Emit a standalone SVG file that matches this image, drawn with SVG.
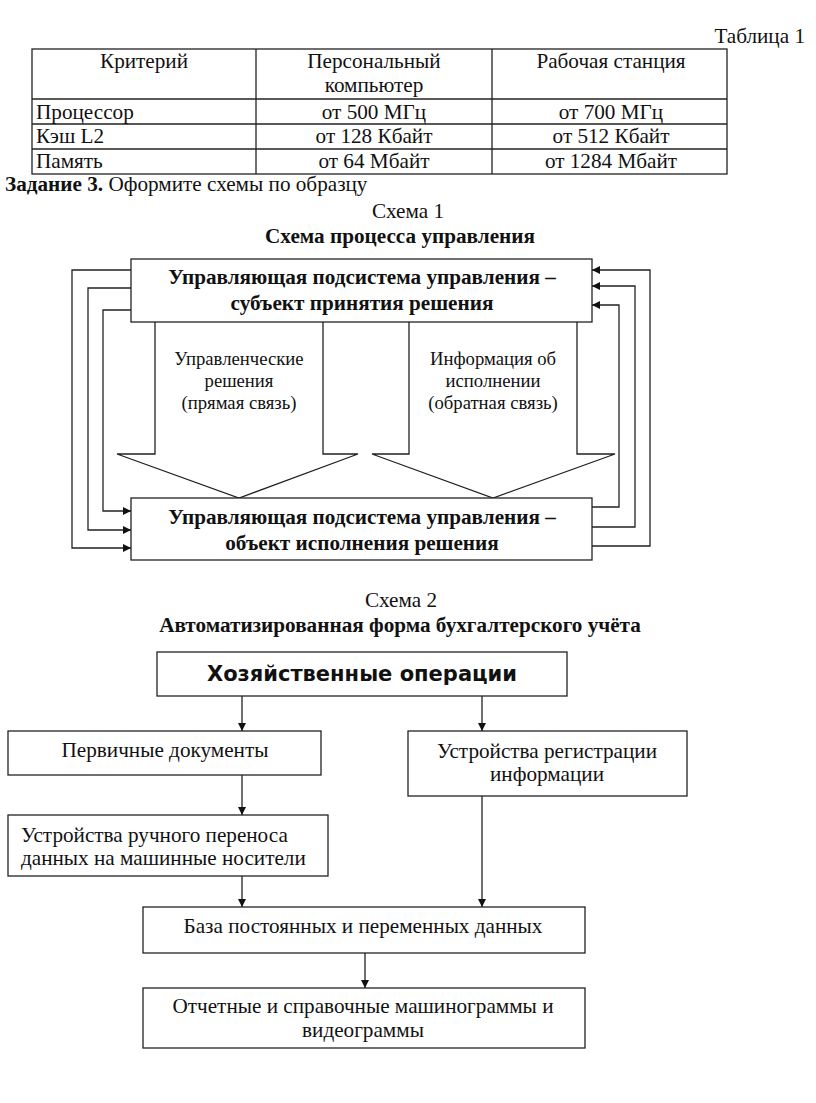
<svg xmlns="http://www.w3.org/2000/svg" width="816" height="1103" viewBox="0 0 816 1103">
<defs>
<marker id="ah" viewBox="0 0 10 10" refX="10" refY="5" markerWidth="8" markerHeight="8" markerUnits="userSpaceOnUse" orient="auto">
<path d="M0,0 L10,5 L0,10 z" fill="#111"/>
</marker>
<style>
.t{font-family:"Liberation Serif","Times New Roman",serif;font-size:21.2px;fill:#111}
.b{font-weight:bold}
.c{text-anchor:middle}
.s{font-size:18.7px}
.bx{fill:#fff;stroke:#222;stroke-width:1.3}
.ln{fill:none;stroke:#222;stroke-width:1.3}
.ar{fill:none;stroke:#222;stroke-width:1.3;marker-end:url(#ah)}
.h{font-family:"DejaVu Sans",Verdana,sans-serif;font-weight:bold;font-size:21px;fill:#111;text-anchor:middle}
</style>
</defs>
<rect width="816" height="1103" fill="#fff"/>

<g id="table">
<text class="t" x="805" y="43" text-anchor="end">Таблица 1</text>
<rect class="ln" x="32" y="49" width="695" height="125"/>
<line class="ln" x1="256" y1="49" x2="256" y2="174"/>
<line class="ln" x1="492" y1="49" x2="492" y2="174"/>
<line class="ln" x1="32" y1="99" x2="727" y2="99"/>
<line class="ln" x1="32" y1="124" x2="727" y2="124"/>
<line class="ln" x1="32" y1="149" x2="727" y2="149"/>
<text class="t c" x="144" y="68">Критерий</text>
<text class="t c" x="374" y="68">Персональный</text>
<text class="t c" x="374" y="92">компьютер</text>
<text class="t c" x="611" y="68">Рабочая станция</text>
<text class="t" x="36" y="119">Процессор</text>
<text class="t c" x="374" y="119">от 500 МГц</text>
<text class="t c" x="611" y="119">от 700 МГц</text>
<text class="t" x="36" y="143">Кэш L2</text>
<text class="t c" x="374" y="143">от 128 Кбайт</text>
<text class="t c" x="611" y="143">от 512 Кбайт</text>
<text class="t" x="36" y="168">Память</text>
<text class="t c" x="374" y="168">от 64 Мбайт</text>
<text class="t c" x="611" y="168">от 1284 Мбайт</text>
</g>

<text class="t" x="5" y="191"><tspan class="b">Задание 3.</tspan> Оформите схемы по образцу</text>

<text class="t c" x="408" y="218">Схема 1</text>
<text class="t c b" x="400" y="243">Схема процесса управления</text>

<g id="s1-connectors">
<polyline class="ln" points="155,322 155,454 117,454 239,498 358,454 323,454 323,322"/>
<polyline class="ln" points="409,322 409,454 372,454 493,498 615,454 577,454 577,322"/>
<path class="ar" d="M131,270 H72 V548 H131"/>
<path class="ar" d="M131,288 H88 V530 H131"/>
<path class="ar" d="M131,310 H103 V511 H131"/>
<path class="ar" d="M592,546 H650 V270 H592"/>
<path class="ar" d="M592,527 H635 V286 H592"/>
<path class="ar" d="M592,507 H619 V305 H592"/>
</g>

<g id="s1-top">
<rect class="bx" x="131" y="259" width="461" height="63"/>
<text class="t b c" x="362" y="284">Управляющая подсистема управления –</text>
<text class="t b c" x="362" y="310">субъект принятия решения</text>
</g>
<g id="s1-bottom">
<rect class="bx" x="131" y="498" width="461" height="62"/>
<text class="t b c" x="362" y="524">Управляющая подсистема управления –</text>
<text class="t b c" x="362" y="550">объект исполнения решения</text>
</g>
<g id="s1-label-left">
<text class="t s c" x="239" y="365">Управленческие</text>
<text class="t s c" x="239" y="387">решения</text>
<text class="t s c" x="239" y="409">(прямая связь)</text>
</g>
<g id="s1-label-right">
<text class="t s c" x="493" y="365">Информация об</text>
<text class="t s c" x="493" y="387">исполнении</text>
<text class="t s c" x="493" y="409">(обратная связь)</text>
</g>

<text class="t c" x="401" y="607">Схема 2</text>
<text class="t c b" x="400" y="632">Автоматизированная форма бухгалтерского учёта</text>

<g id="s2-connectors">
<line class="ar" x1="242" y1="696" x2="242" y2="731"/>
<line class="ar" x1="482" y1="696" x2="482" y2="731"/>
<line class="ar" x1="242" y1="775" x2="242" y2="815"/>
<line class="ar" x1="242" y1="876" x2="242" y2="907"/>
<line class="ar" x1="482" y1="796" x2="482" y2="907"/>
<line class="ar" x1="365" y1="953" x2="365" y2="988"/>
</g>

<g id="n-ops">
<rect class="bx" x="157" y="652" width="410" height="44"/>
<text class="h" x="362" y="681">Хозяйственные операции</text>
</g>
<g id="n-primary">
<rect class="bx" x="8" y="731" width="313" height="44"/>
<text class="t c" x="165" y="757">Первичные документы</text>
</g>
<g id="n-reg">
<rect class="bx" x="408" y="731" width="279" height="65"/>
<text class="t c" x="547" y="758">Устройства регистрации</text>
<text class="t c" x="547" y="781">информации</text>
</g>
<g id="n-manual">
<rect class="bx" x="8" y="815" width="320" height="61"/>
<text class="t" x="21" y="842">Устройства ручного переноса</text>
<text class="t" x="21" y="865">данных на машинные носители</text>
</g>
<g id="n-db">
<rect class="bx" x="143" y="907" width="442" height="46"/>
<text class="t c" x="363" y="933">База постоянных и переменных данных</text>
</g>
<g id="n-reports">
<rect class="bx" x="143" y="988" width="442" height="60"/>
<text class="t c" x="363" y="1013">Отчетные и справочные машинограммы и</text>
<text class="t c" x="363" y="1037">видеограммы</text>
</g>
</svg>
